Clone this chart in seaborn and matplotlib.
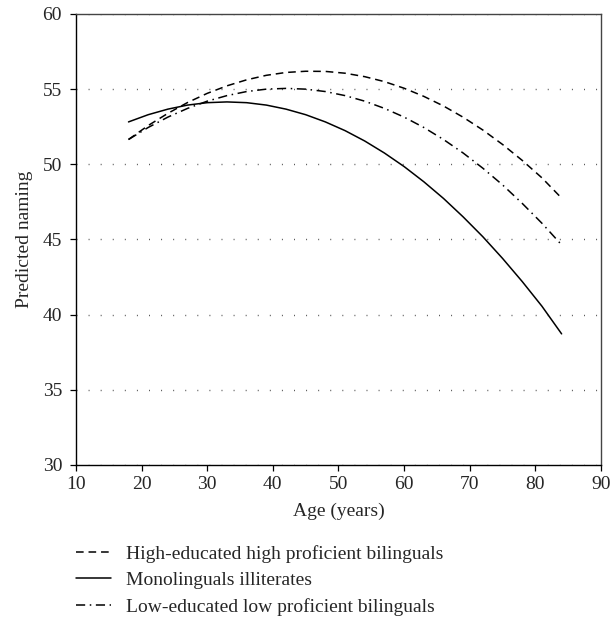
import matplotlib
matplotlib.use("Agg")
import matplotlib.pyplot as plt
import seaborn as sns
import pandas as pd

ages = [18, 21, 24, 27, 30, 33, 36, 39, 42, 45, 48, 51, 54, 57, 60, 63, 66, 69, 72, 75, 78, 81, 84]
high_edu = [51.65, 52.58, 53.39, 54.11, 54.72, 55.22, 55.62, 55.92, 56.11, 56.19, 56.18, 56.06,
            55.83, 55.50, 55.06, 54.52, 53.88, 53.13, 52.28, 51.32, 50.26, 49.10, 47.75]
mono_illit = [52.82, 53.30, 53.67, 53.94, 54.10, 54.15, 54.10, 53.94, 53.67, 53.30, 52.82, 52.24,
              51.55, 50.75, 49.85, 48.84, 47.73, 46.50, 45.18, 43.74, 42.20, 40.56, 38.72]
low_edu = [51.65, 52.45, 53.14, 53.72, 54.20, 54.57, 54.84, 55.00, 55.05, 55.00, 54.84, 54.57,
           54.20, 53.72, 53.14, 52.45, 51.65, 50.75, 49.74, 48.63, 47.40, 46.08, 44.64]

series_names = ["High-educated high proficient bilinguals",
                "Monolinguals illiterates",
                "Low-educated low proficient bilinguals"]
x_ticks = [10, 20, 30, 40, 50, 60, 70, 80, 90]
y_ticks = [30, 35, 40, 45, 50, 55, 60]

sns.set_theme(style="white")
plt.rcParams["font.family"] = ["Liberation Serif", "DejaVu Serif"]

df = pd.DataFrame({
    "Age": ages * 3,
    "Value": high_edu + mono_illit + low_edu,
    "Group": [series_names[0]] * len(ages) + [series_names[1]] * len(ages) + [series_names[2]] * len(ages),
})

fig = plt.figure(figsize=(6.11, 6.30), dpi=100)
ax = fig.add_axes([0.1244, 0.262, 0.8592, 0.7158])

styles = [(0, (5, 3.2)), "-", (0, (6, 3, 1, 3))]
for name, ls in zip(series_names, styles):
    sub = df[df["Group"] == name]
    sns.lineplot(data=sub, x="Age", y="Value", ax=ax, color="black",
                 linestyle=ls, linewidth=1.1, label=name, legend=False)

ax.set_xlim(10, 90)
ax.set_ylim(30, 60)
ax.set_xticks(x_ticks)
ax.set_yticks(y_ticks)
ax.tick_params(axis="both", direction="out", length=4, width=0.9, color="black",
               labelsize=14, bottom=True, left=True)
ax.tick_params(axis="x", pad=4)
ax.tick_params(axis="y", pad=6)
ax.grid(axis="y", linestyle=(0, (0.7, 8)), color="#555555", linewidth=1.0)
ax.grid(axis="x", visible=False)
for side in ["left", "bottom"]:
    ax.spines[side].set_color("black")
    ax.spines[side].set_linewidth(1.0)
for side in ["top", "right"]:
    ax.spines[side].set_color("#444444")
    ax.spines[side].set_linewidth(1.0)

ax.set_xlabel("Age (years)", fontsize=14, labelpad=7)
ax.set_ylabel("Predicted naming", fontsize=14, labelpad=7)

handles, labels = ax.get_legend_handles_labels()
fig.legend(handles, labels, loc="upper left", bbox_to_anchor=(0.1244, 0.135),
           frameon=False, fontsize=14, handlelength=1.8, handletextpad=0.75,
           labelspacing=0.45, borderpad=0, borderaxespad=0)

fig.savefig("out.png", dpi=100)
